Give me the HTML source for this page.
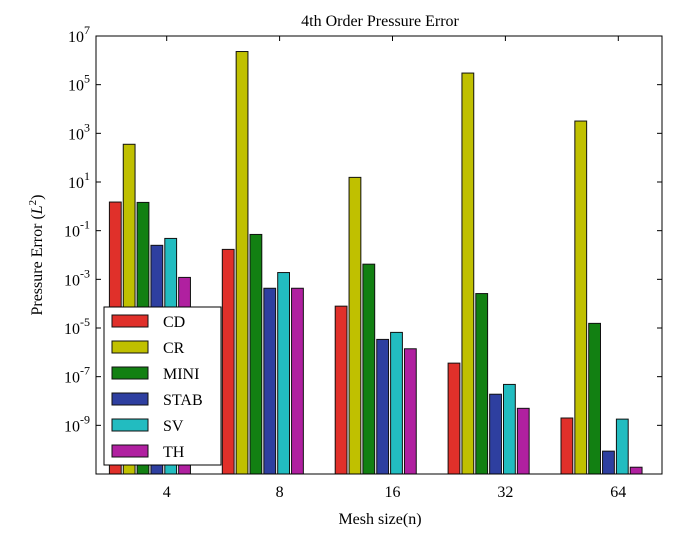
<!DOCTYPE html>
<html><head><meta charset="utf-8"><style>
body{margin:0;background:#fff;}
svg{display:block;font-family:"Liberation Serif",serif;}
</style></head><body>
<svg id="chart" width="691" height="534">
<text x="380" y="26" font-size="16" text-anchor="middle">4th Order Pressure Error</text>
<text x="380" y="524" font-size="16" text-anchor="middle">Mesh size(n)</text>
<text transform="translate(42,255) rotate(-90)" font-size="16" text-anchor="middle">Pressure Error (<tspan font-style="italic">L</tspan><tspan dy="-6" font-size="11">2</tspan><tspan dy="6">)</tspan></text>
<g id="bars"></g><g id="axes"></g><g id="legend"></g>
</svg>
<script>
const categories=["4","8","16","32","64"];
const seriesNames=["CD","CR","MINI","STAB","SV","TH"];
const seriesColors=["#e0302a","#c0c000","#128012","#2e3fa0","#22bcc0","#b020a0"];
const CD=[1.5,0.017,7.9e-5,3.6e-7,2e-9];
const CR=[355,2.3e6,15.5,3e5,3200];
const MINI=[1.45,0.07,0.0042,2.6e-4,1.55e-5];
const STAB=[0.025,4.3e-4,3.4e-6,1.9e-8,8.7e-11];
const SV=[0.048,0.0019,6.6e-6,4.8e-8,1.8e-9];
const TH=[0.0012,4.3e-4,1.4e-6,5e-9,1.9e-11];
const yTickExps=[-9,-7,-5,-3,-1,1,3,5,7];
const series=[CD,CR,MINI,STAB,SV,TH];
const NS="http://www.w3.org/2000/svg";
const L=96,R=662,T=36,B=474,yMin=-11,yMax=7;
function y(v){return B-(Math.log10(v)-yMin)/(yMax-yMin)*(B-T);}
function xc(i){return 166.7+i*112.9;}
const pitch=13.85,bw=11.8;
function mk(tag,attrs,parent){const e=document.createElementNS(NS,tag);for(const k in attrs)e.setAttribute(k,attrs[k]);parent.appendChild(e);return e;}
const bars=document.getElementById('bars');
series.forEach((s,si)=>{s.forEach((v,ci)=>{
 const x=xc(ci)-57.3+si*pitch;const top=y(v);
 const r=mk('rect',{x:x,y:top,width:bw,height:B-top,fill:seriesColors[si],stroke:'#111','stroke-width':1},bars);
 
 
});});
const ax=document.getElementById('axes');
const frame=mk('rect',{x:L,y:T,width:R-L,height:B-T,fill:'none',stroke:'#000','stroke-width':1},ax);


yTickExps.forEach(e=>{const yy=y(Math.pow(10,e));
 mk('line',{x1:L,x2:L+5,y1:yy,y2:yy,stroke:'#000'},ax);
 mk('line',{x1:R,x2:R-5,y1:yy,y2:yy,stroke:'#000'},ax);
 const t=mk('text',{x:90,y:yy+6,'font-size':16,'text-anchor':'end'},ax);
 
 
 t.innerHTML='10<tspan dy="-8" font-size="12">'+e+'</tspan>';
});
categories.forEach((c,i)=>{const xx=xc(i);
 mk('line',{x1:xx,x2:xx,y1:T,y2:T+5,stroke:'#000'},ax);
 const t=mk('text',{x:xx,y:497,'font-size':16,'text-anchor':'middle'},ax);
 
 
 t.textContent=c;
});
const lg=document.getElementById('legend');
const box=mk('rect',{x:104,y:307,width:117,height:158,fill:'#fff',stroke:'#000'},lg);


seriesNames.forEach((n,i)=>{const cy=321+i*26;
 const sw=mk('rect',{x:112,y:cy-6,width:36,height:12,fill:seriesColors[i],stroke:'#111'},lg);
 
 
 const t=mk('text',{x:163,y:cy+6,'font-size':16},lg);
 
 
 t.textContent=n;
});
</script>
</body></html>
